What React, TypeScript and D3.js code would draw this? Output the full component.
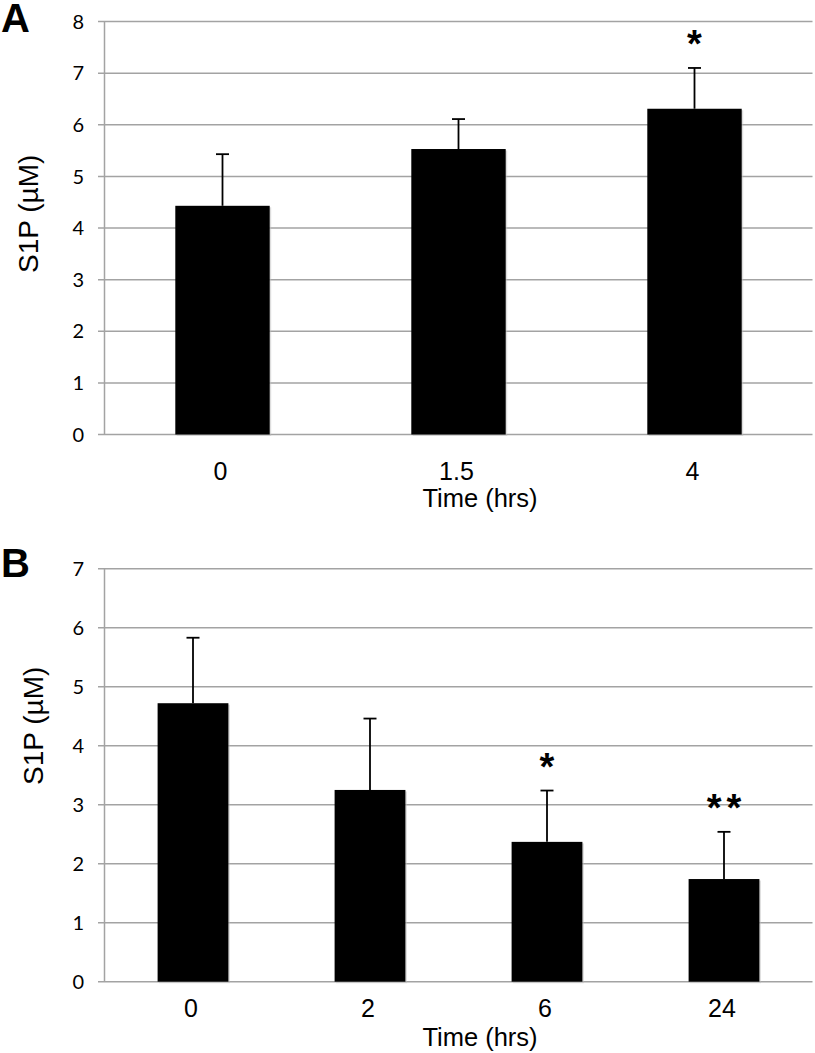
import React from "react";
import * as d3 from "d3";

const catsA = ["0", "1.5", "4"];
const meansA = [4.43, 5.53, 6.31];
const errsA = [1.0, 0.58, 0.79];
const sigA = ["", "", "*"];
const ticksA = [0, 1, 2, 3, 4, 5, 6, 7, 8];

const catsB = ["0", "2", "6", "24"];
const meansB = [4.72, 3.25, 2.37, 1.74];
const errsB = [1.11, 1.21, 0.87, 0.8];
const sigB = ["", "", "*", "**"];
const ticksB = [0, 1, 2, 3, 4, 5, 6, 7];

const W = 815;
const H = 1053;
const SANS = "'Liberation Sans', Arial, sans-serif";
const TICKFONT = "Lato, 'Open Sans', sans-serif";

type PanelProps = {
  letter: string;
  letterY: number;
  cats: string[];
  means: number[];
  errs: number[];
  sig: string[];
  ticks: number[];
  yTop: number;
  yBottom: number;
  catBaseline: number;
  titleBaseline: number;
  yTitleBottom: number;
  yTitleX: number;
};

function Panel(p: PanelProps) {
  const x0 = 104.5;
  const x1 = 812.5;
  const x = d3
    .scaleBand<string>()
    .domain(p.cats)
    .range([x0, x1])
    .paddingInner(0.6)
    .paddingOuter(0.3);
  const yMax = p.ticks[p.ticks.length - 1];
  const y = d3.scaleLinear().domain([0, yMax]).range([p.yBottom, p.yTop]);
  const bw = x.bandwidth();
  return (
    <g>
      <text
        x={1}
        y={p.letterY}
        fontFamily={SANS}
        fontWeight="bold"
        fontSize={40}
        fill="#000"
      >
        {p.letter}
      </text>
      {p.ticks.map((t) => (
        <g key={t}>
          <line
            x1={98}
            x2={x1}
            y1={y(t)}
            y2={y(t)}
            stroke="#a3a3a3"
            strokeWidth={1.5}
          />
          <text
            x={84}
            y={y(t)}
            dy="0.36em"
            textAnchor="end"
            fontFamily={TICKFONT}
            fontSize={20}
            fill="#000"
          >
            {t}
          </text>
        </g>
      ))}
      <line
        x1={x0}
        x2={x0}
        y1={y(yMax)}
        y2={p.yBottom}
        stroke="#a3a3a3"
        strokeWidth={1.5}
      />
      {p.cats.map((c, i) => {
        const bx = x(c) as number;
        const cx = bx + bw / 2;
        const top = y(p.means[i]);
        const et = y(p.means[i] + p.errs[i]);
        return (
          <g key={c}>
            <rect
              x={bx + 1.5}
              y={top + 1.5}
              width={bw}
              height={p.yBottom - top}
              fill="#bbb"
              opacity={0.5}
            />
            <rect
              x={bx}
              y={top}
              width={bw}
              height={p.yBottom - top}
              fill="#000"
            />
            <line x1={cx} x2={cx} y1={top} y2={et} stroke="#000" strokeWidth={1.8} />
            <line
              x1={cx - 6.5}
              x2={cx + 6.5}
              y1={et}
              y2={et}
              stroke="#000"
              strokeWidth={1.8}
            />
            {p.sig[i] && (
              <text
                x={cx + (p.sig[i].length > 1 ? 2.5 : 0)}
                y={et - 11}
                textAnchor="middle"
                fontFamily={SANS}
                fontWeight="bold"
                fontSize={38}
                letterSpacing={p.sig[i].length > 1 ? 5 : 0}
                fill="#000"
              >
                {p.sig[i]}
              </text>
            )}
            <text
              x={cx - 2}
              y={p.catBaseline}
              textAnchor="middle"
              fontFamily={SANS}
              fontSize={25}
              fill="#000"
            >
              {c}
            </text>
          </g>
        );
      })}
      <text
        x={480}
        y={p.titleBaseline}
        textAnchor="middle"
        fontFamily={SANS}
        fontSize={25.5}
        fill="#000"
      >
        Time (hrs)
      </text>
      <text
        transform={`translate(${p.yTitleX},${p.yTitleBottom}) rotate(-90)`}
        textAnchor="start"
        fontFamily={SANS}
        fontSize={28}
        fill="#000"
      >
        S1P (µM)
      </text>
    </g>
  );
}

export default function App() {
  return (
    <svg
      width={W}
      height={H}
      style={{ position: "absolute", left: 0, top: 0, background: "#fff" }}
    >
      <rect width={W} height={H} fill="#fff" />
      <Panel
        letter="A"
        letterY={32}
        cats={catsA}
        means={meansA}
        errs={errsA}
        sig={sigA}
        ticks={ticksA}
        yTop={21.5}
        yBottom={434.5}
        catBaseline={480}
        titleBaseline={507}
        yTitleBottom={273}
        yTitleX={38}
      />
      <Panel
        letter="B"
        letterY={577}
        cats={catsB}
        means={meansB}
        errs={errsB}
        sig={sigB}
        ticks={ticksB}
        yTop={568.7}
        yBottom={981.7}
        catBaseline={1017}
        titleBaseline={1046}
        yTitleBottom={785}
        yTitleX={43}
      />
    </svg>
  );
}
